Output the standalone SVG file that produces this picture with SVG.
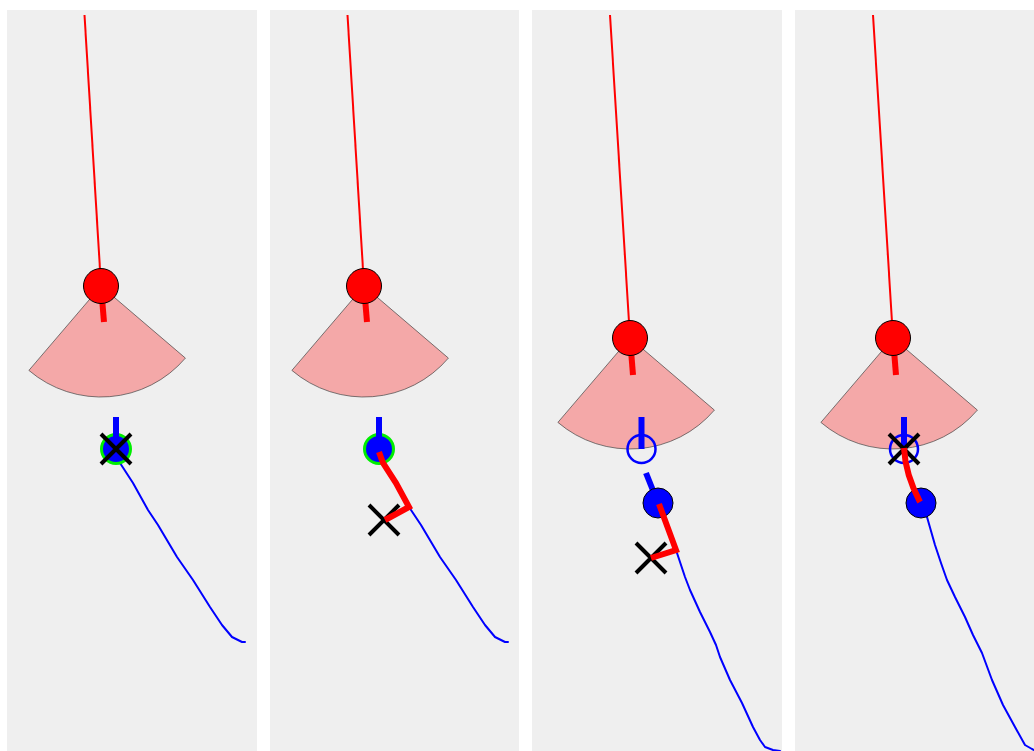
<svg xmlns="http://www.w3.org/2000/svg" width="1034" height="751" viewBox="0 0 1034 751">
  <defs>
    <style>
      .panel { fill: #efefef; }
      .ray { stroke: #ff0000; stroke-width: 2; fill: none; }
      .fov { fill: #f4a8a8; stroke: #444; stroke-width: 0.7; }
      .head-red { stroke: #ff0000; stroke-width: 6; fill: none; }
      .head-blue { stroke: #0000ff; stroke-width: 6; fill: none; }
      .agent { fill: #ff0000; stroke: #000; stroke-width: 1; }
      .target { fill: #0000ff; stroke: #000; stroke-width: 1; }
      .target-hit { fill: #0000ff; stroke: #00ee00; stroke-width: 3; }
      .ghost { fill: none; stroke: #0000ff; stroke-width: 2.5; }
      .track { stroke: #0000ff; stroke-width: 2; fill: none; stroke-linejoin: round; stroke-linecap: round; }
      .plan { stroke: #ff0000; stroke-width: 6; fill: none; stroke-linejoin: miter; }
      .cross { stroke: #000; stroke-width: 4; fill: none; }
    </style>
  </defs>

  <!-- panel backgrounds -->
  <rect class="panel" x="7" y="10" width="250" height="745"/>
  <rect class="panel" x="270" y="10" width="249" height="745"/>
  <rect class="panel" x="532" y="10" width="250" height="745"/>
  <rect class="panel" x="795" y="10" width="250" height="745"/>

  <!-- connectors: tracks and planned paths -->
  <g id="connectors">
    <path class="track" d="M116,449 L120,463 L133,483 L148,510 L158,525 L177,557 L193,580 L210,607 L222,625 L232,637 L238,640 L242,642 L245,642"/>
    <path class="track" d="M409,507 L411,510 L421,525 L440,557 L456,580 L473,607 L485,625 L495,637 L501,640 L505,642 L508,642"/>
    <path class="track" d="M676,550 L680,562 L685,577 L690,590 L700,612 L710,632 L716,645 L720,657 L730,680 L742,703 L753,727 L760,740 L765,747 L773,750 L780,751"/>
    <path class="track" d="M921,503 L927,517 L935,545 L941,563 L947,580 L955,597 L965,617 L973,635 L978,645 L982,653 L992,680 L1003,705 L1015,727 L1025,745 L1032,749 L1036,751"/>
  </g>

  <!-- panel 1 -->
  <g id="agent-1">
    <line class="ray" x1="84.5" y1="15" x2="101" y2="286"/>
    <path class="fov" d="M101,286 L185.4,358.1 A111,111 0 0,1 28.9,370.4 Z"/>
    <line class="head-red" x1="101" y1="286" x2="104" y2="322"/>
    <circle class="agent" cx="101" cy="286" r="17.5"/>
  </g>
  <g id="target-1">
    <circle class="target-hit" cx="116" cy="449" r="14.5"/>
    <line class="head-blue" x1="116" y1="417" x2="116" y2="449"/>
    <path class="cross" d="M101,434 L131,464 M131,434 L101,464"/>
  </g>

  <!-- panel 2 -->
  <g id="agent-2">
    <line class="ray" x1="347.5" y1="15" x2="364" y2="286"/>
    <path class="fov" d="M364,286 L448.4,358.1 A111,111 0 0,1 291.9,370.4 Z"/>
    <line class="head-red" x1="364" y1="286" x2="367" y2="322"/>
    <circle class="agent" cx="364" cy="286" r="17.5"/>
  </g>
  <g id="target-2">
    <circle class="target-hit" cx="379" cy="449" r="14.5"/>
    <line class="head-blue" x1="379" y1="417" x2="379" y2="449"/>
  </g>
  <g id="plan-2">
    <path class="cross" d="M369,505 L399,535 M399,505 L369,535"/>
    <path class="plan" d="M379,452 L383,463 L396,483 L409,507 L385,520"/>
  </g>

  <!-- panel 3 -->
  <g id="agent-3">
    <line class="ray" x1="610" y1="15" x2="630" y2="338"/>
    <path class="fov" d="M630,338 L714.4,410.1 A111,111 0 0,1 557.9,422.4 Z"/>
    <line class="head-red" x1="630" y1="338" x2="633" y2="375"/>
    <circle class="agent" cx="630" cy="338" r="17.5"/>
  </g>
  <g id="target-3-prev">
    <circle class="ghost" cx="641.5" cy="449" r="14"/>
    <line class="head-blue" x1="641.5" y1="417" x2="641.5" y2="449"/>
  </g>
  <g id="target-3">
    <line class="head-blue" x1="658" y1="503" x2="646" y2="473"/>
    <circle class="target" cx="658" cy="503" r="15"/>
  </g>
  <g id="plan-3">
    <path class="cross" d="M636,543 L666,573 M666,543 L636,573"/>
    <path class="plan" d="M659,504 L676,550 L651,558"/>
  </g>

  <!-- panel 4 -->
  <g id="agent-4">
    <line class="ray" x1="873" y1="15" x2="893" y2="338"/>
    <path class="fov" d="M893,338 L977.4,410.1 A111,111 0 0,1 820.9,422.4 Z"/>
    <line class="head-red" x1="893" y1="338" x2="896" y2="375"/>
    <circle class="agent" cx="893" cy="338" r="17.5"/>
  </g>
  <g id="target-4-prev">
    <circle class="ghost" cx="904" cy="449" r="14"/>
    <line class="head-blue" x1="904" y1="417" x2="904" y2="449"/>
    <path class="cross" d="M889,434 L919,464 M919,434 L889,464"/>
  </g>
  <g id="target-4">
    <circle class="target" cx="921" cy="503" r="15"/>
  </g>
  <g id="plan-4">
    <path class="plan" d="M904,448 C905,468 911,485 920,502"/>
  </g>
</svg>
